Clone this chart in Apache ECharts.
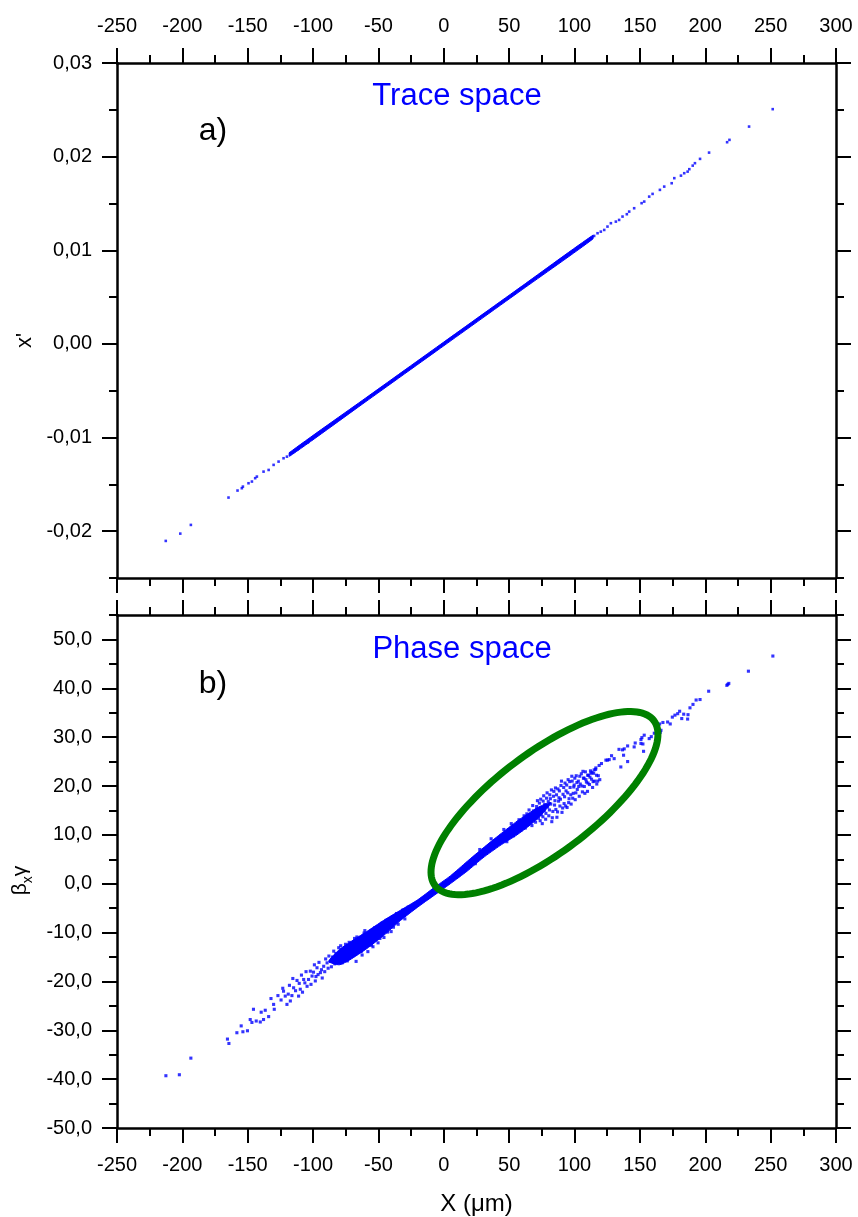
<!DOCTYPE html>
<html>
<head>
<meta charset="utf-8">
<title>Trace space / Phase space</title>
<script src="https://cdn.jsdelivr.net/npm/echarts/dist/echarts.min.js"></script>
<style>
  html, body { margin: 0; padding: 0; background: #fff; overflow: hidden; }
  #chart { width: 858px; height: 1217px; }
</style>
</head>
<body>
<div id="chart"></div>
<script>
// ---- tick values ----
const X_MIN = -250, X_MAX = 300, X_STEP = 50;
const TRACE_TICKS = [-0.02, -0.01, 0.00, 0.01, 0.02, 0.03];
const TRACE_MINOR = [-0.025, -0.015, -0.005, 0.005, 0.015, 0.025];
const PHASE_TICKS = [-50, -40, -30, -20, -10, 0, 10, 20, 30, 40, 50];
const PHASE_MINOR = [-45, -35, -25, -15, -5, 5, 15, 25, 35, 45, 55];

// ---- a) trace space: dense core band (upper edge, then lower edge back) ----
const traceCoreUpper = [[-118, -0.01160], [-60, -0.00580], [0, 0.00020], [60, 0.00620], [114, 0.01160]];
const traceCoreLower = [[114, 0.01120], [60, 0.00580], [0, -0.00020], [-60, -0.00620], [-118, -0.01200]];

// ---- a) trace space: individual particles outside the core ----
const traceDots = [
  [-212.7, -0.02104], [-201.6, -0.02026], [-193.5, -0.01933], [-164.7, -0.01641], [-157.8, -0.01566],
  [-154.5, -0.01541], [-153.7, -0.01524], [-149.4, -0.01488], [-146.8, -0.01470], [-144.3, -0.01434],
  [-143.0, -0.01417], [-137.9, -0.01364], [-134.0, -0.01346], [-130.2, -0.01292], [-126.4, -0.01257],
  [-122.6, -0.01221], [-120.0, -0.01204], [-117.5, -0.01167], [-112.0, -0.01125], [-108.0, -0.01085],
  [-104.0, -0.01052], [-101.0, -0.01015],
  [112.5, 0.01129], [115.0, 0.01153], [117.6, 0.01182], [120.1, 0.01199], [122.7, 0.01217],
  [125.2, 0.01253], [127.8, 0.01289], [131.6, 0.01306], [134.1, 0.01324], [136.7, 0.01360],
  [140.0, 0.01385], [141.8, 0.01413], [145.6, 0.01449], [151.3, 0.01503], [153.3, 0.01520],
  [157.1, 0.01573], [159.7, 0.01602], [165.3, 0.01645], [168.6, 0.01680], [174.3, 0.01716],
  [176.3, 0.01770], [181.4, 0.01797], [183.9, 0.01823], [186.5, 0.01840], [187.8, 0.01866],
  [190.4, 0.01904], [192.1, 0.01930], [196.0, 0.01976], [202.9, 0.02043], [216.7, 0.02154],
  [218.5, 0.02179], [233.5, 0.02321], [251.6, 0.02507]
];

// ---- b) phase space: dense core band ----
const phaseCoreUpper = [[-88, -15.9], [-80, -13.5], [-72, -12.0], [-59, -9.8], [-46, -7.5], [-33, -5.4], [-20, -3.3],
  [-8, -0.9], [5, 1.6], [18, 4.6], [30, 7.3], [43, 10.1], [56, 12.8], [66, 14.6], [74, 15.9], [82, 16.6]];
const phaseCoreLower = [[74, 13.9], [66, 12.0], [56, 10.0], [43, 7.8], [30, 5.3], [18, 2.6], [5, 0.0], [-8, -2.5],
  [-20, -4.8], [-33, -7.5], [-46, -10.6], [-59, -13.3], [-72, -15.6], [-80, -16.6]];

// ---- b) phase space: individual particles ----
const phaseDots = [
  [-212.6, -39.3], [-202.3, -39.1], [-193.5, -35.7], [-165.5, -31.8], [-164.4, -32.7],
  [-158.3, -30.5], [-155.0, -29.1], [-153.7, -30.3], [-150.2, -30.1], [-148.1, -27.8], [-146.8, -28.4],
  [-145.6, -25.7], [-143.5, -28.1], [-140.4, -28.3], [-139.7, -26.3], [-137.9, -27.8], [-136.6, -25.9],
  [-134.0, -27.2], [-132.2, -23.5], [-130.2, -24.7], [-129.7, -25.7], [-126.9, -22.9], [-124.5, -23.8],
  [-123.2, -21.4], [-122.6, -22.0], [-121.3, -23.0], [-120.0, -24.7], [-119.0, -22.6], [-118.1, -20.8],
  [-117.4, -24.0], [-116.2, -22.9], [-115.5, -19.4], [-114.9, -21.3], [-113.4, -21.9], [-112.3, -19.8],
  [-111.1, -23.0], [-110.6, -20.4], [-109.8, -21.6], [-108.9, -18.7], [-108.1, -22.2], [-107.2, -19.6],
  [-106.3, -20.3], [-105.4, -18.0], [-104.6, -21.0], [-103.5, -19.6], [-102.1, -17.9], [-101.6, -20.6],
  [-100.8, -18.9], [-99.7, -18.1], [-99.0, -16.6], [-98.3, -19.9], [-97.8, -19.0], [-97.0, -17.2],
  [-96.2, -18.6], [-95.5, -16.1], [-94.4, -18.2], [-93.6, -17.6], [-93.0, -19.3], [-91.9, -16.9],
  [-91.1, -18.0], [-90.4, -15.4], [-89.3, -16.2], [-88.5, -17.3], [-87.9, -14.8], [-86.8, -15.9],
  [-86.0, -17.0], [-85.1, -15.0], [-84.2, -13.8], [-83.4, -16.4], [-82.6, -14.3], [-81.7, -15.2],
  [-80.4, -13.1], [-79.6, -15.9], [-78.9, -12.7], [-77.8, -16.2], [-76.5, -14.9], [-75.2, -12.4],
  [-73.8, -15.8], [-72.4, -12.0], [-70.1, -14.8], [-68.3, -11.2], [-67.1, -15.9], [-66.5, -10.9],
  [-64.8, -12.0], [-63.2, -13.9], [-62.5, -14.6], [-61.0, -10.1], [-60.4, -9.6], [-58.1, -13.9],
  [-56.7, -10.3], [-55.4, -12.6], [-54.2, -12.9], [-52.8, -9.0], [-51.5, -9.4], [-50.3, -12.1],
  [-48.9, -11.2], [-47.6, -8.1], [-45.8, -11.0], [-44.1, -7.5], [-43.0, -9.9], [-41.7, -7.3],
  [-40.3, -9.8], [-38.5, -8.9], [-36.2, -6.1], [-34.9, -8.3], [-31.4, -5.4], [-29.8, -7.2], [-27.3, -4.8],
  [24.1, 4.1], [27.5, 7.0], [33.8, 6.6], [36.2, 9.2], [39.7, 7.8], [45.9, 11.1], [48.2, 8.6],
  [51.6, 12.3], [53.3, 9.8],
  [56.2, 11.8], [57.5, 13.1], [58.9, 10.9], [60.1, 12.6], [61.4, 13.9], [62.3, 11.4], [63.5, 14.3],
  [64.6, 12.2], [65.2, 15.1], [66.7, 13.0], [67.4, 11.9], [68.0, 16.0], [68.5, 14.9], [69.3, 13.8],
  [70.2, 12.6], [70.8, 15.2], [71.0, 15.8], [71.6, 17.0], [72.4, 13.4], [72.9, 14.7], [73.1, 16.5],
  [73.7, 12.9], [74.1, 17.3], [74.5, 14.1], [75.3, 12.3], [75.8, 13.7], [76.0, 16.9], [76.4, 18.0],
  [76.8, 15.0], [77.2, 16.2], [77.9, 13.2], [78.1, 14.4], [78.6, 17.5], [79.0, 18.6], [79.4, 15.7],
  [79.9, 16.8], [80.3, 13.9], [80.8, 15.1], [81.1, 18.2], [81.5, 17.4], [81.8, 16.3], [82.3, 19.2],
  [82.6, 12.7], [83.0, 13.5], [83.4, 14.8], [83.9, 17.9], [84.2, 18.9], [84.7, 16.1], [85.0, 17.0],
  [85.4, 19.6], [85.7, 15.2], [86.2, 18.2], [86.5, 13.6], [87.0, 14.7], [87.3, 19.4], [87.8, 16.9],
  [88.1, 17.6], [88.4, 19.0], [88.8, 15.9], [89.2, 17.3], [89.6, 20.1], [90.0, 21.0], [90.4, 14.6],
  [90.9, 15.5], [91.2, 18.3], [91.7, 19.7], [92.0, 16.4], [92.4, 17.8], [92.7, 20.6], [93.2, 15.9],
  [93.5, 19.0], [94.0, 20.2], [94.3, 15.6], [94.8, 18.6], [95.1, 21.3], [95.5, 16.6], [95.8, 17.4],
  [96.3, 20.9], [96.6, 19.7], [97.1, 18.2], [97.4, 16.3], [97.9, 22.0], [98.2, 21.0], [98.6, 17.5],
  [99.0, 18.5], [99.4, 19.8], [99.7, 20.2], [100.2, 21.6], [100.5, 17.2], [101.0, 18.6], [101.3, 22.1],
  [101.8, 20.7], [102.1, 19.3], [102.9, 21.0], [103.2, 19.9], [103.6, 17.9], [104.0, 22.0], [104.4, 20.4],
  [105.2, 22.5], [105.6, 20.0], [106.0, 18.8], [106.4, 23.0], [106.8, 21.6], [107.3, 21.6], [107.5, 19.9],
  [107.9, 18.5], [108.3, 22.9], [108.7, 21.3], [109.1, 20.8], [109.9, 18.9], [110.0, 22.2], [110.3, 20.6],
  [110.7, 22.2], [111.4, 20.3], [111.8, 21.8], [112.2, 23.1], [112.5, 22.6], [113.0, 21.4], [113.4, 22.8],
  [113.8, 19.7], [114.2, 20.9], [114.6, 22.6], [115.0, 23.3], [115.3, 21.0], [116.1, 23.4], [116.3, 23.7],
  [116.8, 22.2], [117.0, 20.4], [117.7, 21.0], [118.2, 22.1], [118.8, 24.2], [119.3, 21.3], [120.6, 24.6],
  [124.0, 25.3], [125.2, 25.3], [126.5, 25.4], [128.3, 26.2], [130.3, 25.6], [134.0, 27.5], [135.4, 23.9],
  [136.7, 27.4], [137.5, 26.3], [138.0, 27.6], [140.6, 28.2], [140.6, 25.0], [145.6, 28.0], [146.4, 28.8],
  [150.8, 29.5], [150.8, 28.7], [151.5, 29.9], [152.3, 28.6], [152.8, 27.1], [153.3, 30.4], [157.1, 29.7],
  [158.7, 30.1], [161.0, 30.8], [165.1, 32.7], [165.6, 31.0], [166.1, 31.4], [167.6, 33.0], [171.2, 33.1],
  [173.2, 32.7], [174.8, 34.1], [176.8, 34.5], [178.9, 34.8], [180.4, 35.3], [182.0, 33.8], [183.5, 34.7],
  [186.5, 33.7], [186.8, 34.6], [188.3, 36.0], [190.6, 36.7], [193.0, 37.6], [196.0, 37.7], [202.6, 39.4],
  [216.5, 40.6], [217.2, 40.8], [218.0, 41.0], [233.0, 43.5], [251.7, 46.6]
];

// ---- highlighted region in b): ellipse centre in data units ----
const HIGHLIGHT_CENTER = [77, 16.5];

// ---- styling ----
const FONT = "'Liberation Sans', Arial, sans-serif";
const BLUE = '#0000ff';
const GREEN = '#008000';
const LINE = { color: '#000', width: 2.5 };
const TICK = { color: '#000', width: 2 };

const commaFmt = (digits) => (v) => v.toFixed(digits).replace('.', ',').replace(/^-(0,0+)$/, '$1');

function xAxisDef(gridIndex, position, showLabels, extra) {
  return Object.assign({
    type: 'value', gridIndex, position, min: X_MIN, max: X_MAX, interval: X_STEP,
    axisLine: { show: true, onZero: false, lineStyle: LINE },
    axisTick: { show: true, inside: false, length: 15, lineStyle: TICK },
    minorTick: { show: true, splitNumber: 2, length: 8, lineStyle: TICK },
    axisLabel: { show: showLabels, margin: 27, fontSize: 20, color: '#000', fontFamily: FONT },
    splitLine: { show: false }, minorSplitLine: { show: false }
  }, extra || {});
}

function yAxisDef(gridIndex, position, min, max, values, len, showLine, fmt, extra) {
  return Object.assign({
    type: 'value', gridIndex, position, min, max,
    axisLine: { show: showLine, onZero: false, lineStyle: LINE },
    axisTick: { show: true, inside: false, length: len, lineStyle: TICK, customValues: values },
    axisLabel: fmt ? { show: true, margin: 25, fontSize: 20, color: '#000', fontFamily: FONT,
                       customValues: values, formatter: fmt }
                   : { show: false },
    splitLine: { show: false }
  }, extra || {});
}

function polygonSeries(xi, yi, vertices) {
  return {
    type: 'custom', xAxisIndex: xi, yAxisIndex: yi, data: vertices, silent: true, z: 2,
    renderItem: function (params, api) {
      if (params.dataIndex !== 0) return null;
      return {
        type: 'polygon',
        shape: { points: vertices.map(p => api.coord(p)), smooth: 0.2 },
        style: { fill: BLUE, stroke: BLUE, lineWidth: 1 }
      };
    }
  };
}

const chart = echarts.init(document.getElementById('chart'), null, { renderer: 'canvas' });

chart.setOption({
  backgroundColor: '#ffffff',
  animation: false,
  title: [
    { text: 'Trace space', left: 457, top: 81, textAlign: 'center', padding: 0,
      textStyle: { color: BLUE, fontSize: 31, fontWeight: 'normal', fontFamily: FONT } },
    { text: 'Phase space', left: 462, top: 634, textAlign: 'center', padding: 0,
      textStyle: { color: BLUE, fontSize: 31, fontWeight: 'normal', fontFamily: FONT } },
    { text: 'a)', left: 213, top: 115, textAlign: 'center', padding: 0,
      textStyle: { color: '#000', fontSize: 32, fontWeight: 'normal', fontFamily: FONT } },
    { text: 'b)', left: 213, top: 668, textAlign: 'center', padding: 0,
      textStyle: { color: '#000', fontSize: 32, fontWeight: 'normal', fontFamily: FONT } }
  ],
  grid: [
    { left: 117, right: 22, top: 63, height: 515 },
    { left: 117, right: 22, top: 615, height: 514 }
  ],
  xAxis: [
    xAxisDef(0, 'top', true),
    xAxisDef(0, 'bottom', false),
    xAxisDef(1, 'top', false),
    xAxisDef(1, 'bottom', true, {
      name: 'X (\u03bcm)', nameLocation: 'middle', nameGap: 64,
      nameTextStyle: { fontSize: 24, color: '#000', fontFamily: FONT }
    })
  ],
  yAxis: [
    // a) trace space
    yAxisDef(0, 'left', -0.025, 0.03, TRACE_TICKS, 15, true, commaFmt(2), {
      name: "x'", nameLocation: 'middle', nameGap: 80, nameRotate: 90,
      nameTextStyle: { fontSize: 22, color: '#000', fontFamily: FONT, padding: [0, 40, 0, 0] }
    }),
    yAxisDef(0, 'left', -0.025, 0.03, TRACE_MINOR, 8, false, null),
    yAxisDef(0, 'right', -0.025, 0.03, TRACE_TICKS, 15, true, null),
    yAxisDef(0, 'right', -0.025, 0.03, TRACE_MINOR, 8, false, null),
    // b) phase space
    yAxisDef(1, 'left', -50, 55, PHASE_TICKS, 15, true, commaFmt(1), {
      name: '{g|\u03b2}{s|x}{g|\u03b3}', nameLocation: 'middle', nameGap: 80, nameRotate: 90,
      nameTextStyle: {
        color: '#000', fontFamily: FONT, padding: [0, 18, 0, 0],
        rich: {
          g: { fontSize: 21, lineHeight: 30, verticalAlign: 'middle', fontFamily: FONT, color: '#000' },
          s: { fontSize: 14, lineHeight: 30, verticalAlign: 'bottom', fontFamily: FONT, color: '#000' }
        }
      }
    }),
    yAxisDef(1, 'left', -50, 55, PHASE_MINOR, 8, false, null),
    yAxisDef(1, 'right', -50, 55, PHASE_TICKS, 15, true, null),
    yAxisDef(1, 'right', -50, 55, PHASE_MINOR, 8, false, null)
  ],
  series: [
    polygonSeries(0, 0, traceCoreUpper.concat(traceCoreLower)),
    {
      type: 'scatter', xAxisIndex: 0, yAxisIndex: 0, data: traceDots,
      symbol: 'rect', symbolSize: 2.6, itemStyle: { color: BLUE }, silent: true, z: 3
    },
    polygonSeries(3, 4, phaseCoreUpper.concat(phaseCoreLower)),
    {
      type: 'scatter', xAxisIndex: 3, yAxisIndex: 4, data: phaseDots,
      symbol: 'rect', symbolSize: 3.1, itemStyle: { color: BLUE }, silent: true, z: 3
    },
    {
      // green ellipse marking the region of interest
      type: 'custom', xAxisIndex: 3, yAxisIndex: 4, data: [HIGHLIGHT_CENTER], silent: true, z: 5,
      renderItem: function (params, api) {
        const c = api.coord([api.value(0), api.value(1)]);
        const rx = 137, ry = 50, tilt = -37 * Math.PI / 180;
        const pts = [];
        for (let i = 0; i < 144; i++) {
          const t = i / 144 * Math.PI * 2;
          const ex = rx * Math.cos(t), ey = ry * Math.sin(t);
          pts.push([c[0] + ex * Math.cos(tilt) - ey * Math.sin(tilt),
                    c[1] + ex * Math.sin(tilt) + ey * Math.cos(tilt)]);
        }
        return { type: 'polygon', shape: { points: pts },
                 style: { fill: 'none', stroke: GREEN, lineWidth: 7 } };
      }
    }
  ]
});
</script>
</body>
</html>
